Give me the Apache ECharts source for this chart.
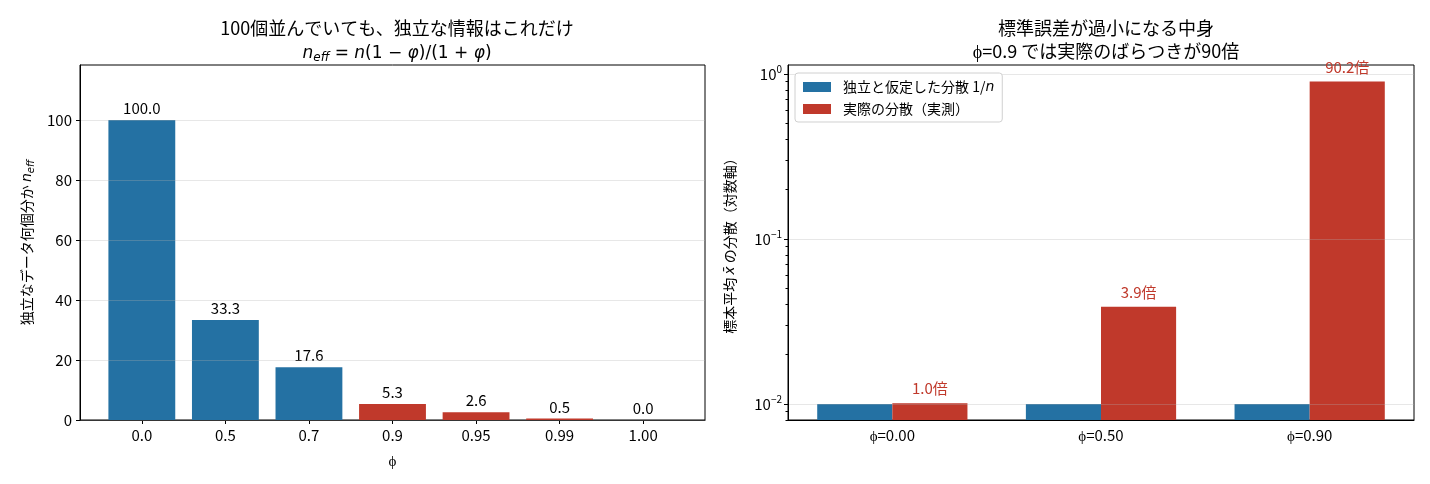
<!DOCTYPE html>
<html>
<head>
<meta charset="utf-8">
<script src="https://cdn.jsdelivr.net/npm/echarts@6/dist/echarts.min.js"></script>
<style>
html, body { margin: 0; padding: 0; background: #fff; }
#chart { width: 1430px; height: 484px; }
</style>
</head>
<body>
<div id="chart"></div>
<script>
// 左: 有効サンプルサイズ n_eff
const phiLabels = ['0.0', '0.5', '0.7', '0.9', '0.95', '0.99', '1.00']
const nEff = [100.0, 33.3, 17.6, 5.3, 2.6, 0.5, 0.0]
const redFrom = 3 // φ >= 0.9 は赤で表示
const leftTicks = [0, 20, 40, 60, 80, 100]

// 右: 標本平均の分散（対数軸）
const groupLabels = ['ϕ=0.00', 'ϕ=0.50', 'ϕ=0.90']
const assumedVar = [0.01, 0.01, 0.01]
const actualVar = [0.0101, 0.0389, 0.902]
const ratioLabels = ['1.0倍', '3.9倍', '90.2倍']
const logMajor = [0.01, 0.1, 1]
const logMinor = [0.008, 0.009,
  0.02, 0.03, 0.04, 0.05, 0.06, 0.07, 0.08, 0.09,
  0.2, 0.3, 0.4, 0.5, 0.6, 0.7, 0.8, 0.9]

const BLUE = '#2471a3'
const RED = '#c0392b'
const FONT = 'Noto Sans CJK JP'
const MATH = 'DejaVu Sans'
const gridColor = 'rgba(176,176,176,0.3)'
const TICK = 15

const chart = echarts.init(document.getElementById('chart'))

const mathRich = {
  i: { fontFamily: MATH, fontStyle: 'italic', fontSize: 17, color: '#000' },
  s: { fontFamily: MATH, fontStyle: 'italic', fontSize: 12, color: '#000', padding: [9, 0, 0, 0] },
  r: { fontFamily: MATH, fontSize: 17, color: '#000' }
}

const option = {
  animation: false,
  textStyle: { fontFamily: FONT },
  title: [
    {
      text: '100個並んでいても、独立な情報はこれだけ',
      left: 392, top: 14, textAlign: 'center',
      textStyle: { fontFamily: FONT, fontSize: 18, fontWeight: 'normal', color: '#000' }
    },
    {
      text: '{i|n}{s|eff}{r| = }{i|n}{r|(1 − }{i|φ}{r|)/(1 + }{i|φ}{r|)}',
      left: 392, top: 38, textAlign: 'center',
      textStyle: { fontSize: 17, fontWeight: 'normal', color: '#000', rich: mathRich }
    },
    {
      text: '標準誤差が過小になる中身',
      left: 1101, top: 14, textAlign: 'center',
      textStyle: { fontFamily: FONT, fontSize: 18, fontWeight: 'normal', color: '#000' }
    },
    {
      text: 'ϕ=0.9 では実際のばらつきが90倍',
      left: 1101, top: 37, textAlign: 'center',
      textStyle: { fontFamily: FONT, fontSize: 18, fontWeight: 'normal', color: '#000' }
    }
  ],
  legend: {
    data: ['独立と仮定した分散 1/n', '実際の分散（実測）'],
    orient: 'vertical',
    left: 795, top: 73,
    itemWidth: 28, itemHeight: 10, itemGap: 8,
    padding: [7, 8, 6, 8],
    borderColor: '#d0d0d0', borderWidth: 1, borderRadius: 3,
    backgroundColor: '#fff',
    icon: 'rect',
    textStyle: {
      fontFamily: FONT, fontSize: 14, color: '#000', padding: [0, 0, 0, 7],
      rich: { i: { fontFamily: MATH, fontStyle: 'italic', fontSize: 14, color: '#000' } }
    },
    formatter: name => name.replace('1/n', '1/{i|n}')
  },
  grid: [
    { left: 80, right: 725, top: 65, bottom: 64, show: true, borderColor: '#000', borderWidth: 1 },
    { left: 788, right: 16, top: 65, bottom: 64, show: true, borderColor: '#000', borderWidth: 1 }
  ],
  xAxis: [
    {
      type: 'value', gridIndex: 0, min: -0.74, max: 6.74,
      axisLine: { onZero: false, lineStyle: { color: '#000' } },
      axisTick: { customValues: phiLabels.map((_, i) => i), length: 4, lineStyle: { color: '#000' } },
      axisLabel: {
        customValues: phiLabels.map((_, i) => i),
        formatter: v => phiLabels[v],
        fontSize: TICK, color: '#000', margin: 8
      },
      splitLine: { show: false },
      name: 'ϕ', nameLocation: 'middle', nameGap: 33,
      nameTextStyle: { fontSize: TICK, color: '#000' }
    },
    {
      type: 'category', gridIndex: 1, data: groupLabels,
      axisLine: { lineStyle: { color: '#000' } },
      axisTick: { alignWithLabel: true, length: 4, lineStyle: { color: '#000' } },
      axisLabel: { fontSize: TICK, color: '#000', margin: 8 }
    }
  ],
  yAxis: [
    {
      type: 'value', gridIndex: 0, min: 0, max: 118.3, interval: 20, z: 3,
      axisLine: { show: true, onZero: false, lineStyle: { color: '#000' } },
      axisTick: { show: true, customValues: leftTicks, length: 4, lineStyle: { color: '#000' } },
      axisLabel: { customValues: leftTicks, fontSize: TICK, color: '#000', margin: 8 },
      splitLine: { show: true, lineStyle: { color: gridColor, width: 1 } },
      name: '独立なデータ何個分か {i|n}{s|eff}',
      nameLocation: 'middle', nameGap: 44, nameRotate: 90,
      nameTextStyle: {
        fontSize: 14, color: '#000',
        rich: {
          i: { fontFamily: MATH, fontStyle: 'italic', fontSize: 14, color: '#000' },
          s: { fontFamily: MATH, fontStyle: 'italic', fontSize: 10, color: '#000', padding: [8, 0, 0, 0] }
        }
      }
    },
    {
      type: 'log', gridIndex: 1, min: 0.008, max: 1.134, startValue: 0.008, z: 3,
      axisLine: { show: true, onZero: false, lineStyle: { color: '#000' } },
      axisTick: { show: true, customValues: logMajor, length: 4, lineStyle: { color: '#000' } },
      axisLabel: {
        customValues: logMajor,
        formatter: v => '{b|10}{e|' + String(Math.round(Math.log10(v))).replace('-', '−') + '}',
        color: '#000', margin: 6,
        rich: {
          b: { fontSize: TICK, color: '#000' },
          e: { fontSize: 10, color: '#000', padding: [0, 0, 9, 0] }
        }
      },
      splitLine: { show: true, lineStyle: { color: gridColor, width: 1 } },
      name: '標本平均 {i|x̄} の分散（対数軸）',
      nameLocation: 'middle', nameGap: 51, nameRotate: 90,
      nameTextStyle: {
        fontSize: 14, color: '#000',
        rich: { i: { fontFamily: MATH, fontStyle: 'italic', fontSize: 14, color: '#000' } }
      }
    },
    {
      // 小目盛り
      type: 'log', gridIndex: 1, position: 'left', min: 0.008, max: 1.134,
      axisLine: { show: false, onZero: false },
      axisTick: { show: true, customValues: logMinor, length: 2.5, lineStyle: { color: '#000' } },
      axisLabel: { show: false },
      splitLine: { show: false }
    }
  ],
  series: [
    {
      type: 'bar', xAxisIndex: 0, yAxisIndex: 0,
      barWidth: '80%',
      data: nEff.map((v, i) => ({ value: [i, v], itemStyle: { color: i >= redFrom ? RED : BLUE } })),
      label: {
        show: true, position: 'top', distance: 4,
        formatter: p => p.value[1].toFixed(1),
        fontSize: TICK, color: '#000'
      }
    },
    {
      name: '独立と仮定した分散 1/n',
      type: 'bar', xAxisIndex: 1, yAxisIndex: 1,
      barWidth: '36%', barGap: '0%',
      itemStyle: { color: BLUE },
      data: assumedVar
    },
    {
      name: '実際の分散（実測）',
      type: 'bar', xAxisIndex: 1, yAxisIndex: 1,
      barWidth: '36%', barGap: '0%',
      itemStyle: { color: RED },
      data: actualVar,
      label: {
        show: true, position: 'top', distance: 7,
        formatter: p => ratioLabels[p.dataIndex],
        fontSize: TICK, color: RED
      }
    }
  ]
}

chart.setOption(option)
</script>
</body>
</html>
